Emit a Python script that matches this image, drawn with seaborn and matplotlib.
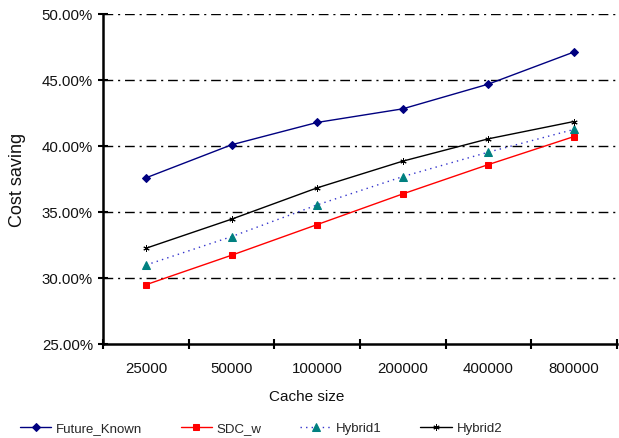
import matplotlib
matplotlib.use("Agg")
import matplotlib.pyplot as plt
import seaborn as sns
import pandas as pd
from matplotlib.ticker import FuncFormatter, FixedLocator

cache_sizes = ["25000", "50000", "100000", "200000", "400000", "800000"]
future_known = [0.3758, 0.4008, 0.4177, 0.4280, 0.4467, 0.4710]
sdc_w = [0.2949, 0.3172, 0.3404, 0.3636, 0.3858, 0.4070]
hybrid1 = [0.3098, 0.3313, 0.3553, 0.3767, 0.3952, 0.4124]
hybrid2 = [0.3225, 0.3445, 0.3682, 0.3884, 0.4053, 0.4184]

sns.set_theme(style="white")
plt.rcParams["font.family"] = ["Liberation Sans", "DejaVu Sans"]

fig = plt.figure(figsize=(6.19, 4.39), dpi=100)
ax = fig.add_axes([103.3 / 619, 1 - 345 / 439, (616.7 - 103.3) / 619, (345 - 14.7) / 439])

series = [
    ("Future_Known", future_known, dict(color="#000080", marker="D", markersize=4, linestyle="-",
                                        markerfacecolor="#000080", markeredgecolor="#000080")),
    ("SDC_w", sdc_w, dict(color="#FF0000", marker="s", markersize=5, linestyle="-",
                          markerfacecolor="#FF0000", markeredgecolor="#FF0000")),
    ("Hybrid1", hybrid1, dict(color="#3333CC", marker="^", markersize=6, linestyle=(0, (1, 3)),
                              markerfacecolor="#008080", markeredgecolor="#008080")),
    ("Hybrid2", hybrid2, dict(color="#000000", marker=(6, 2, 0), markersize=4.5, linestyle="-",
                              markeredgecolor="#000000", markeredgewidth=0.7)),
]

for name, vals, style in series:
    df = pd.DataFrame({"Cache size": cache_sizes, "Cost saving": vals})
    sns.lineplot(data=df, x="Cache size", y="Cost saving", ax=ax, label=name,
                 linewidth=1.0, sort=False, **style)

ax.set_xlim(-0.5, 5.5)
ax.set_ylim(0.25, 0.50)
ax.yaxis.set_major_locator(FixedLocator([0.25, 0.30, 0.35, 0.40, 0.45, 0.50]))
ax.yaxis.set_major_formatter(FuncFormatter(lambda v, p: f"{v*100:.2f}%"))

ax.xaxis.set_major_locator(FixedLocator([i - 0.5 for i in range(7)]))
ax.xaxis.set_major_formatter(FuncFormatter(lambda v, p: ""))
ax.set_xticks(list(range(6)), minor=True)
ax.set_xticklabels(cache_sizes, minor=True)

ax.tick_params(axis="x", which="major", direction="inout", length=7, width=1.5, color="black")
ax.tick_params(axis="x", which="minor", length=0, labelsize=10.8, pad=12, labelcolor="#111111")
ax.tick_params(axis="y", which="major", direction="inout", length=7, width=1.5, color="black",
               labelsize=10.8, pad=4, labelcolor="#111111")
ax.tick_params(bottom=True, left=True)

for y in [0.30, 0.35, 0.40, 0.45, 0.50]:
    ax.axhline(y, color="black", linewidth=1.0, linestyle=(0, (7, 3.5, 1.5, 3.5)), zorder=0)

for s in ["top", "right"]:
    ax.spines[s].set_visible(False)
for s in ["left", "bottom"]:
    ax.spines[s].set_color("black")
    ax.spines[s].set_linewidth(1.8)

ax.set_xlabel("Cache size", fontsize=11, color="#111111")
ax.xaxis.set_label_coords((307 - 103.3) / 513.4, -0.135)
ax.set_ylabel("Cost saving", fontsize=13, color="#111111")
ax.yaxis.set_label_coords(-0.150, 0.5)

handles, labels = ax.get_legend_handles_labels()
ax.legend_.remove()
fig.legend(handles, labels, loc="center", bbox_to_anchor=(261 / 619, 1 - 429 / 439), ncol=4,
           frameon=False, fontsize=9.5, handlelength=2.4, handletextpad=0.35, columnspacing=2.9,
           borderaxespad=0, borderpad=0)

fig.savefig("out.png", dpi=100)
